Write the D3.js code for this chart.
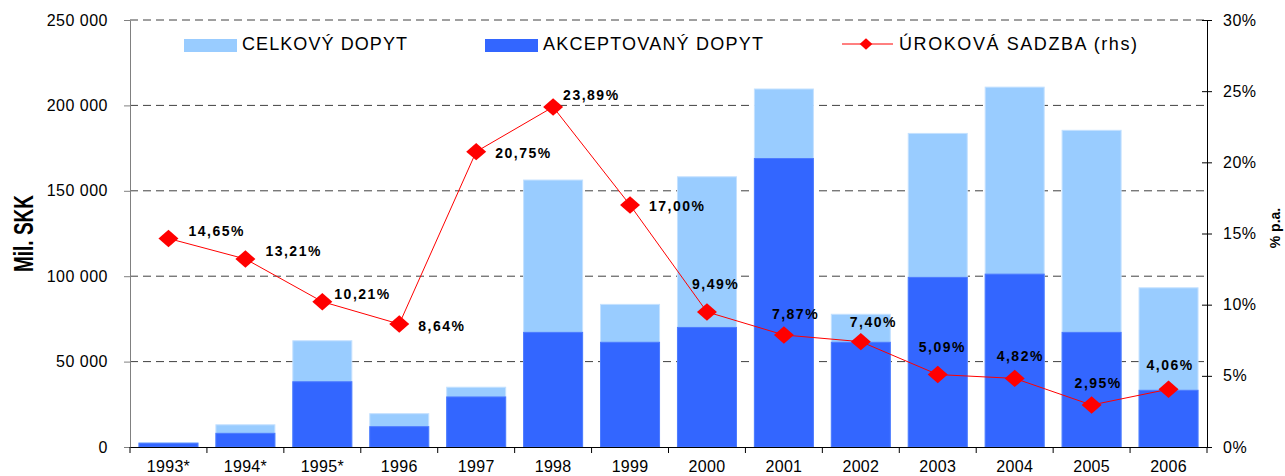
<!DOCTYPE html>
<html>
<head>
<meta charset="utf-8">
<script src="https://cdn.jsdelivr.net/npm/d3@7"></script>
<style>
  body { margin: 0; background: #fff; }
  text { font-family: "Liberation Sans", Arial, sans-serif; }
</style>
</head>
<body>
<div id="chart"></div>
<script>
// data
var years = ["1993*", "1994*", "1995*", "1996", "1997", "1998", "1999", "2000", "2001", "2002", "2003", "2004", "2005", "2006"];
var totalDemand = [2500, 13000, 62200, 19500, 35000, 156300, 83500, 158200, 209600, 77700, 183600, 210700, 185400, 93200];
var acceptedDemand = [2200, 8000, 38200, 11900, 29300, 67100, 61300, 70000, 168900, 61300, 99300, 101200, 67100, 33200];
var rates = [14.65, 13.21, 10.21, 8.64, 20.75, 23.89, 17.00, 9.49, 7.87, 7.40, 5.09, 4.82, 2.95, 4.06];
var leftTicks = [0, 50000, 100000, 150000, 200000, 250000];
var rightTicks = [0, 5, 10, 15, 20, 25, 30];
var legendNames = ["CELKOVÝ DOPYT", "AKCEPTOVANÝ DOPYT", "ÚROKOVÁ SADZBA (rhs)"];

// where each rate label sits relative to its marker [dx, dy]
var labelOffsets = [[20, -2], [20, -3], [12, -3], [19, 7], [19, 6], [10, -7], [19, 6],
                    [-15, -23], [-12, -16], [-11, -15], [-19, -23], [-18, -17], [-17, -17], [-22, -19]];

var W = 1285, H = 476;
var margin = { top: 20, left: 130, right: 78, bottom: 29 };
var width = W - margin.left - margin.right;
var height = H - margin.top - margin.bottom;

var locale = d3.formatLocale({ decimal: ",", thousands: " ", grouping: [3], currency: ["", ""] });
var fmtNum = locale.format(",");
var fmtRate = locale.format(".2f");

var svg = d3.select("#chart").append("svg")
  .attr("width", W)
  .attr("height", H);

var g = svg.append("g")
  .attr("transform", "translate(" + margin.left + "," + margin.top + ")");

var x = d3.scaleBand().domain(years).range([0, width]).padding(0);
var y = d3.scaleLinear().domain([0, 250000]).range([height, 0]);
var yR = d3.scaleLinear().domain([0, 30]).range([height, 0]);

var bw = x.bandwidth();
var barW = bw * 0.767;

// gridlines
g.selectAll(".grid")
  .data(leftTicks.filter(function(d) { return d > 0; }))
  .enter().append("line")
  .attr("class", "grid")
  .attr("x1", 0).attr("x2", width)
  .attr("y1", function(d) { return y(d); })
  .attr("y2", function(d) { return y(d); })
  .attr("stroke", "#404040")
  .attr("stroke-width", 1)
  .attr("stroke-dasharray", "8,5");

// bars
g.selectAll(".bar-total")
  .data(totalDemand)
  .enter().append("rect")
  .attr("class", "bar-total")
  .attr("x", function(d, i) { return x(years[i]) + (bw - barW) / 2; })
  .attr("width", barW)
  .attr("y", function(d) { return y(d); })
  .attr("height", function(d) { return height - y(d); })
  .attr("fill", "#99CCFF")
  .attr("stroke", "#c4e1ff")
  .attr("stroke-width", 1);

g.selectAll(".bar-acc")
  .data(acceptedDemand)
  .enter().append("rect")
  .attr("class", "bar-acc")
  .attr("x", function(d, i) { return x(years[i]) + (bw - barW) / 2; })
  .attr("width", barW)
  .attr("y", function(d) { return y(d); })
  .attr("height", function(d) { return height - y(d); })
  .attr("fill", "#3366FF")
  .attr("stroke", "#4d7bff")
  .attr("stroke-width", 1);

// left axis
var yAxis = d3.axisLeft(y).tickValues(leftTicks).tickSize(6).tickSizeOuter(0).tickPadding(16)
  .tickFormat(function(d) { return fmtNum(d); });
var ya = g.append("g").attr("class", "y axis").call(yAxis);
ya.select(".domain").attr("stroke", "#808080");
ya.selectAll(".tick line").attr("stroke", "#808080");
ya.selectAll(".tick text")
  .style("font-size", "16px")
  .style("letter-spacing", "0.5px")
  .attr("fill", "#000");

// right axis
var yAxisR = d3.axisRight(yR).tickValues(rightTicks).tickSize(5).tickSizeOuter(0).tickPadding(11)
  .tickFormat(function(d) { return d + "%"; });
var yr = g.append("g").attr("class", "y2 axis")
  .attr("transform", "translate(" + width + ",0)")
  .call(yAxisR);
yr.select(".domain").attr("stroke", "#000");
yr.selectAll(".tick line").attr("x1", -5).attr("stroke", "#000");
yr.selectAll(".tick text")
  .style("font-size", "16px")
  .style("letter-spacing", "0.5px")
  .attr("fill", "#000");

// bottom axis: labels centered, ticks at category boundaries
var xAxis = d3.axisBottom(x).tickSize(0).tickSizeOuter(0).tickPadding(18);
var xa = g.append("g").attr("class", "x axis")
  .attr("transform", "translate(0," + height + ")")
  .call(xAxis);
xa.select(".domain").attr("stroke", "#000");
xa.selectAll(".tick text")
  .style("font-size", "16px")
  .style("letter-spacing", "0.3px")
  .attr("dy", null)
  .attr("y", 25)
  .attr("fill", "#000");

xa.selectAll(".bound")
  .data(years.concat(["end"]))
  .enter().append("line")
  .attr("class", "bound")
  .attr("x1", function(d, i) { return i < years.length ? x(d) : width; })
  .attr("x2", function(d, i) { return i < years.length ? x(d) : width; })
  .attr("y1", 0).attr("y2", 6)
  .attr("stroke", "#000");

// rate line
var cx = function(i) { return x(years[i]) + bw / 2; };
var line = d3.line()
  .x(function(d, i) { return cx(i); })
  .y(function(d) { return yR(d); });

g.append("path")
  .datum(rates)
  .attr("d", line)
  .attr("fill", "none")
  .attr("stroke", "#FF0000")
  .attr("stroke-width", 1);

var diamond = "M0,-8.7L10,0L0,8.7L-10,0Z";
g.selectAll(".marker")
  .data(rates)
  .enter().append("path")
  .attr("class", "marker")
  .attr("d", diamond)
  .attr("transform", function(d, i) { return "translate(" + cx(i) + "," + yR(d) + ")"; })
  .attr("fill", "#FF0000");

g.selectAll(".rate-label")
  .data(rates)
  .enter().append("text")
  .attr("class", "rate-label")
  .attr("x", function(d, i) { return cx(i) + labelOffsets[i][0]; })
  .attr("y", function(d, i) { return yR(d) + labelOffsets[i][1]; })
  .style("font-size", "14px")
  .style("font-weight", "bold")
  .style("letter-spacing", "1.5px")
  .attr("fill", "#000")
  .text(function(d) { return fmtRate(d) + "%"; });

// axis titles
svg.append("text")
  .attr("transform", "translate(32.5," + (margin.top + height / 2) + ")rotate(-90)scale(1,1.45)")
  .attr("text-anchor", "middle")
  .style("font-size", "19px")
  .style("font-weight", "bold")
  .text("Mil. SKK");

svg.append("text")
  .attr("transform", "translate(1280,228)rotate(-90)")
  .attr("text-anchor", "middle")
  .style("font-size", "14px")
  .style("font-weight", "bold")
  .text("% p.a.");

// legend
var leg = svg.append("g").attr("class", "legend");
leg.append("rect").attr("x", 184).attr("y", 39).attr("width", 53).attr("height", 13).attr("fill", "#99CCFF");
leg.append("rect").attr("x", 485).attr("y", 39).attr("width", 53).attr("height", 13).attr("fill", "#3366FF");
leg.append("line").attr("x1", 842).attr("x2", 893).attr("y1", 44).attr("y2", 44)
  .attr("stroke", "#FF0000").attr("stroke-width", 1);
leg.append("path").attr("d", "M0,-5.7L6.3,0L0,5.7L-6.3,0Z")
  .attr("transform", "translate(866,44)").attr("fill", "#FF0000");

var legX = [242, 543, 899];
var legLen = [165, 220, 238];
leg.selectAll(".legtext")
  .data(legendNames)
  .enter().append("text")
  .attr("class", "legtext")
  .attr("x", function(d, i) { return legX[i]; })
  .attr("y", 50)
  .attr("textLength", function(d, i) { return legLen[i]; })
  .attr("lengthAdjust", "spacing")
  .style("font-size", "18px")
  .attr("fill", "#000")
  .text(function(d) { return d; });
</script>
</body>
</html>
